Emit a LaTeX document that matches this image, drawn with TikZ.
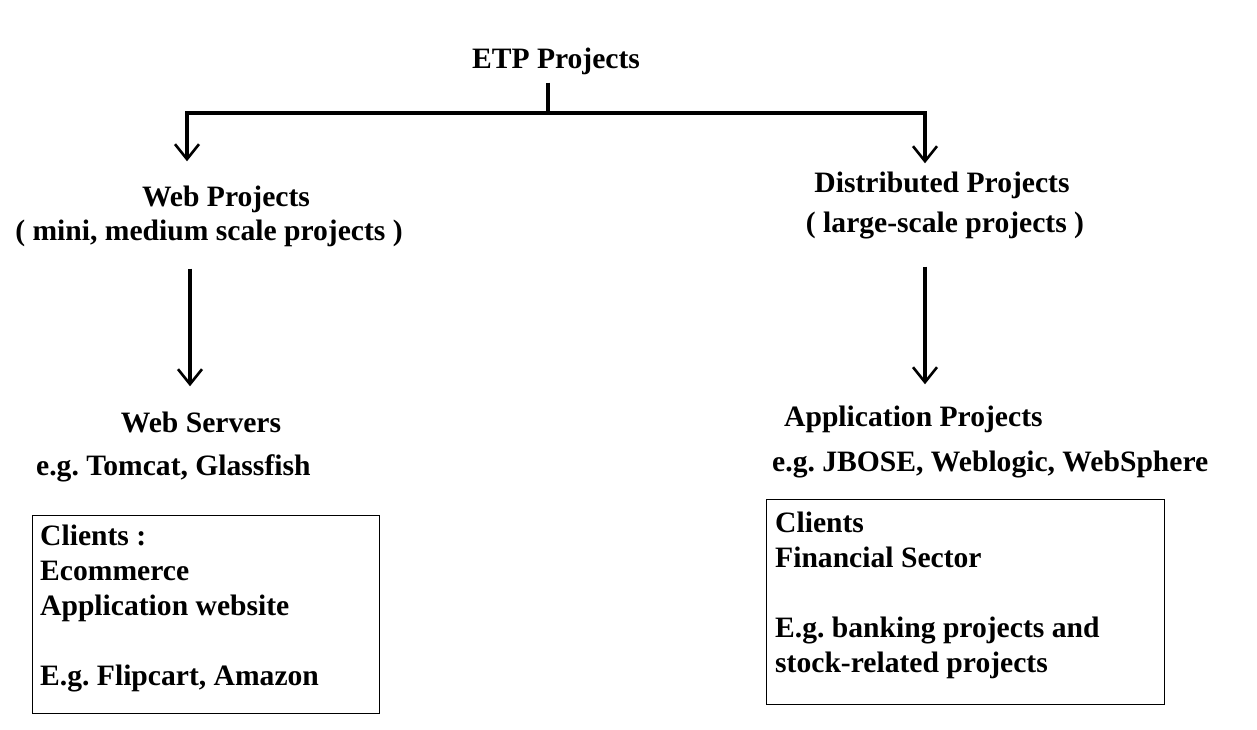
\documentclass[tikz,border=0pt]{standalone}
\usepackage{fontspec}
\setmainfont{Liberation Serif}
\usetikzlibrary{arrows.meta,calc}
\begin{document}
\frenchspacing
\begin{tikzpicture}[x=1pt,y=-1pt,
  txt/.style={inner sep=0pt, font=\fontsize{29.6}{35}\selectfont\bfseries},
  ctxt/.style={txt, anchor=base},
  ltxt/.style={txt, anchor=base west, align=left},
  tree/.style={line width=3.2pt},
  arr/.style={line width=3.2pt, -{Straight Barb[length=15pt,width=24pt,line width=2.6pt]}},
  boxr/.style={draw, line width=1.3pt, inner sep=0pt, anchor=north west}
]
\useasboundingbox (0,0) rectangle (1257,729);
\fill[white] (0,0) rectangle (1257,729);

% texts
\node[ctxt] (etp) at (556,68) {ETP Projects};
\node[ctxt] (webp1) at (226,206) {Web Projects};
\node[ctxt] (webp2) at (209,240) {( mini, medium scale projects )};
\node[ctxt] (distp1) at (942,192) {Distributed Projects};
\node[ctxt] (distp2) at (945,232) {( large-scale projects )};
\node[ctxt] (websrv) at (201,432) {Web Servers};
\node[ltxt] (webeg) at (36,475) {e.g. Tomcat, Glassfish};
\node[ltxt] (appp) at (784,426) {Application Projects};
\node[ltxt] (appeg) at (772,471) {e.g. JBOSE, Weblogic, WebSphere};

% boxes
\node[boxr, minimum width=347pt, minimum height=198pt] (boxL) at (32,515) {};
\node[ltxt] (boxLtext) at (40,685) {Clients :\\Ecommerce\\Application website\\[35pt]E.g. Flipcart, Amazon};
\node[boxr, minimum width=398pt, minimum height=205pt] (boxR) at (766,499) {};
\node[ltxt] (boxRtext) at (775,672) {Clients\\Financial Sector\\[35pt]E.g. banking projects and\\stock-related projects};

% tree connectors
\coordinate (jn) at (548,113);
\coordinate (jl) at (187,113);
\coordinate (jr) at (925,113);
\coordinate (lx) at (190,0);
\coordinate (rx) at (925,0);
\draw[tree] ($(etp.south -| jn)+(0,8)$) -- (jn);
\draw[tree, line cap=rect] (jl) -- (jr);
\draw[arr, shorten >=24pt] (jl) -- (jl |- webp1.north);
\draw[arr, shorten >=8pt] (jr) -- (jr |- distp1.north);
\draw[arr, shorten <=22pt, shorten >=25pt] (webp2.south -| lx) -- (websrv.north -| lx);
\draw[arr, shorten <=28pt, shorten >=21pt] (distp2.south -| rx) -- (appp.north -| rx);
\end{tikzpicture}
\end{document}
